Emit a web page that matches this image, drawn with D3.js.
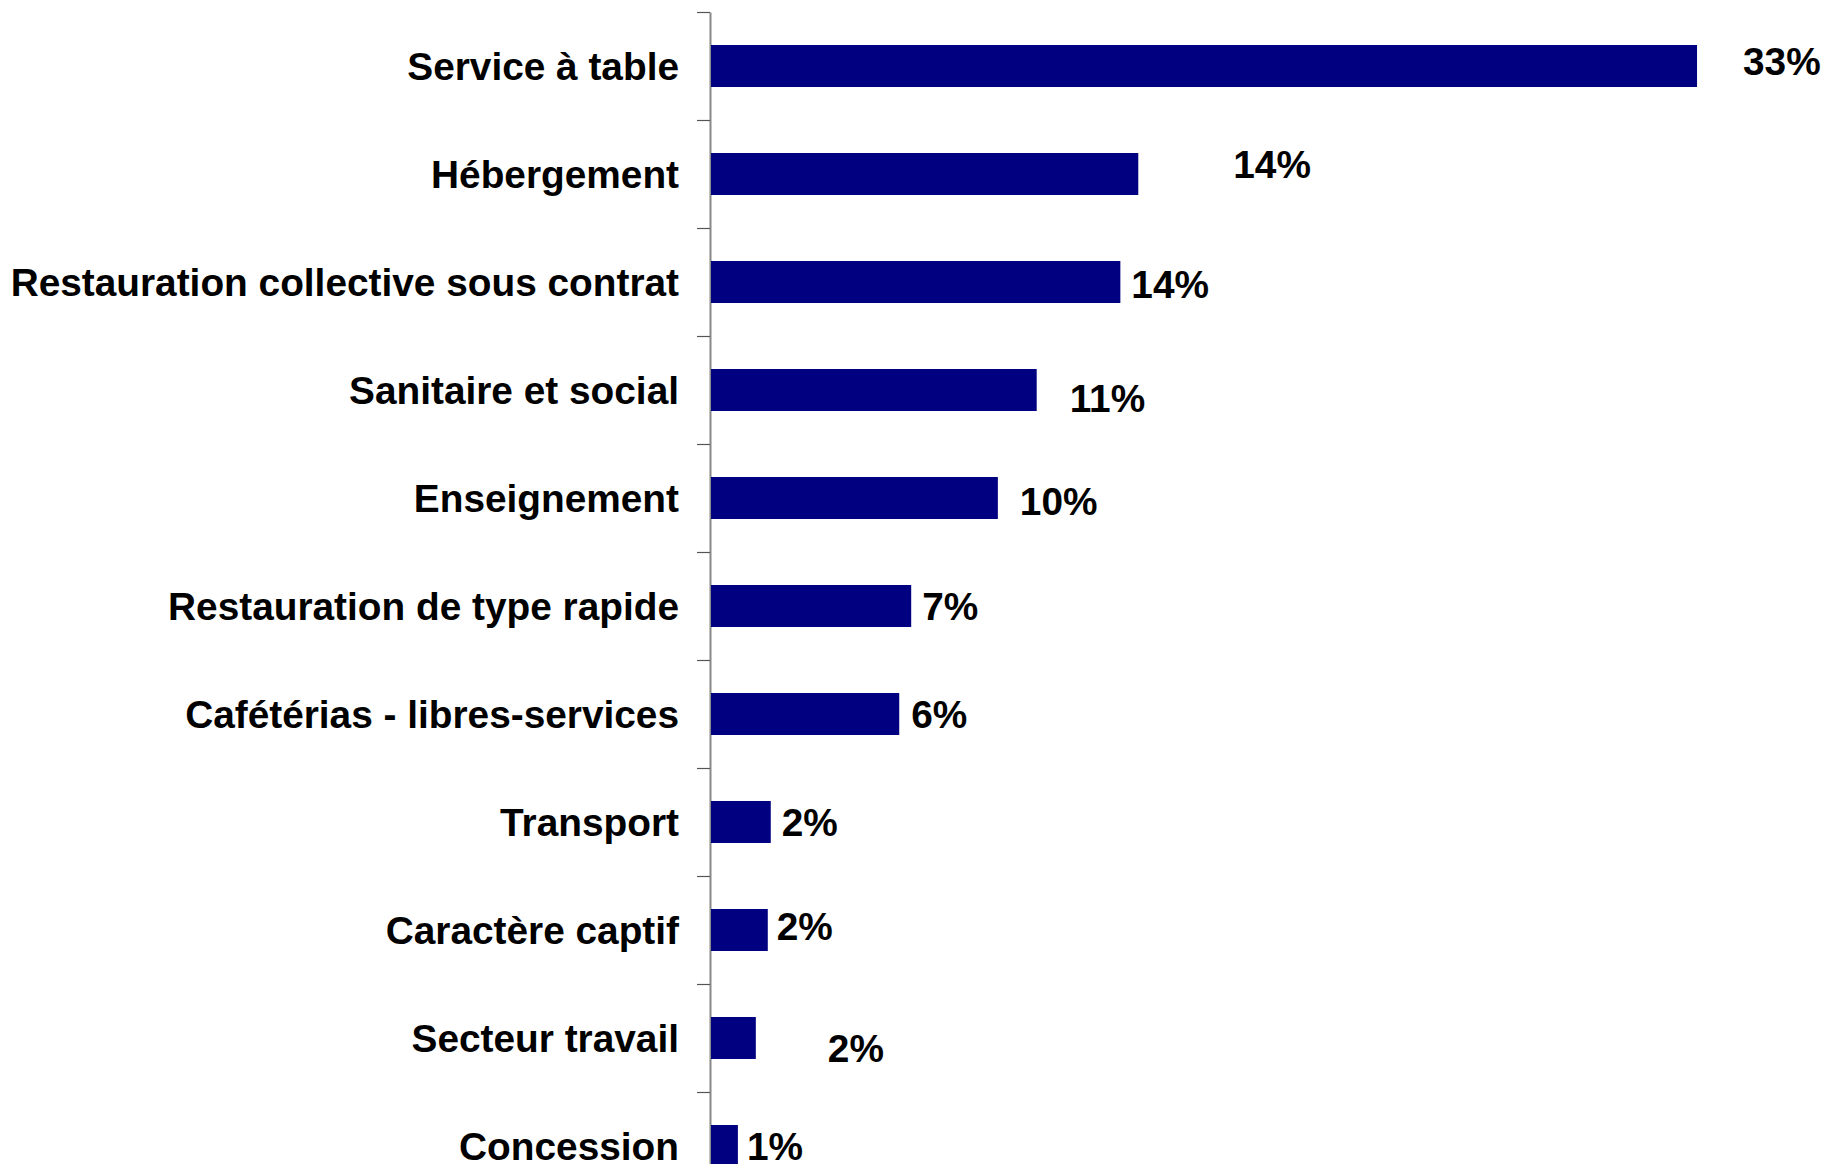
<!DOCTYPE html>
<html>
<head>
<meta charset="utf-8">
<script src="https://cdn.jsdelivr.net/npm/d3@7"></script>
<style>
  html, body { margin: 0; padding: 0; background: #ffffff; }
  svg { display: block; }
  text { font-family: "Liberation Sans", Arial, Helvetica, sans-serif; font-weight: bold; fill: #000; }
</style>
</head>
<body>
<svg id="chart" width="1825" height="1164"></svg>
<script>
// ---- Data ----
const categories = [
  "Service à table",
  "Hébergement",
  "Restauration collective sous contrat",
  "Sanitaire et social",
  "Enseignement",
  "Restauration de type rapide",
  "Cafétérias - libres-services",
  "Transport",
  "Caractère captif",
  "Secteur travail",
  "Concession"
];
const values = [33.0, 14.3, 13.7, 10.9, 9.6, 6.7, 6.3, 2.0, 1.9, 1.5, 0.9];
const valueLabels = ["33%", "14%", "14%", "11%", "10%", "7%", "6%", "2%", "2%", "2%", "1%"];

// ---- Layout (label positions as placed in the source chart) ----
const labelDx = [46, 95, 11, 33, 22, 11, 12, 11, 9, 72, 9];
const labelDy = [-4.5, -10, 2.5, 8.5, 3.5, 0, 0, 0, -3.5, 10, 0];

const svg = d3.select("#chart");
const axisX = 710;
const fontSize = 38.8;

const x = d3.scaleLinear().domain([0, 35]).range([axisX + 1, axisX + 1 + 35 * 29.88]);
const y = d3.scaleBand()
  .domain(categories)
  .range([12, 12 + 108 * categories.length])
  .paddingInner(0.6111)
  .paddingOuter(0.3056);

// Category axis: line with ticks at band boundaries
const tickScale = d3.scaleLinear().domain([0, categories.length]).range([12, 12 + 108 * categories.length]);
const axis = d3.axisLeft(tickScale)
  .tickValues(d3.range(0, categories.length + 1))
  .tickSize(13)
  .tickSizeOuter(0)
  .tickFormat("");
const gAxis = svg.append("g").attr("transform", `translate(${axisX},0)`).call(axis);
gAxis.select(".domain").attr("stroke", "#888888").attr("stroke-width", 2);
gAxis.selectAll(".tick line").attr("stroke", "#555555").attr("stroke-width", 1.2);

// Bars
svg.append("g").selectAll("rect")
  .data(values)
  .join("rect")
  .attr("x", x(0))
  .attr("y", (d, i) => y(categories[i]))
  .attr("width", d => x(d) - x(0))
  .attr("height", y.bandwidth())
  .attr("fill", "#000080");

// Category labels
svg.append("g").selectAll("text")
  .data(categories)
  .join("text")
  .attr("x", 679)
  .attr("y", d => y(d) + y.bandwidth() / 2)
  .attr("dy", "0.36em")
  .attr("text-anchor", "end")
  .style("font-size", fontSize + "px")
  .text(d => d);

// Value labels
svg.append("g").selectAll("text")
  .data(values)
  .join("text")
  .attr("x", (d, i) => x(d) + labelDx[i])
  .attr("y", (d, i) => y(categories[i]) + y.bandwidth() / 2 + labelDy[i])
  .attr("dy", "0.36em")
  .attr("text-anchor", "start")
  .style("font-size", fontSize + "px")
  .text((d, i) => valueLabels[i]);
</script>
</body>
</html>
